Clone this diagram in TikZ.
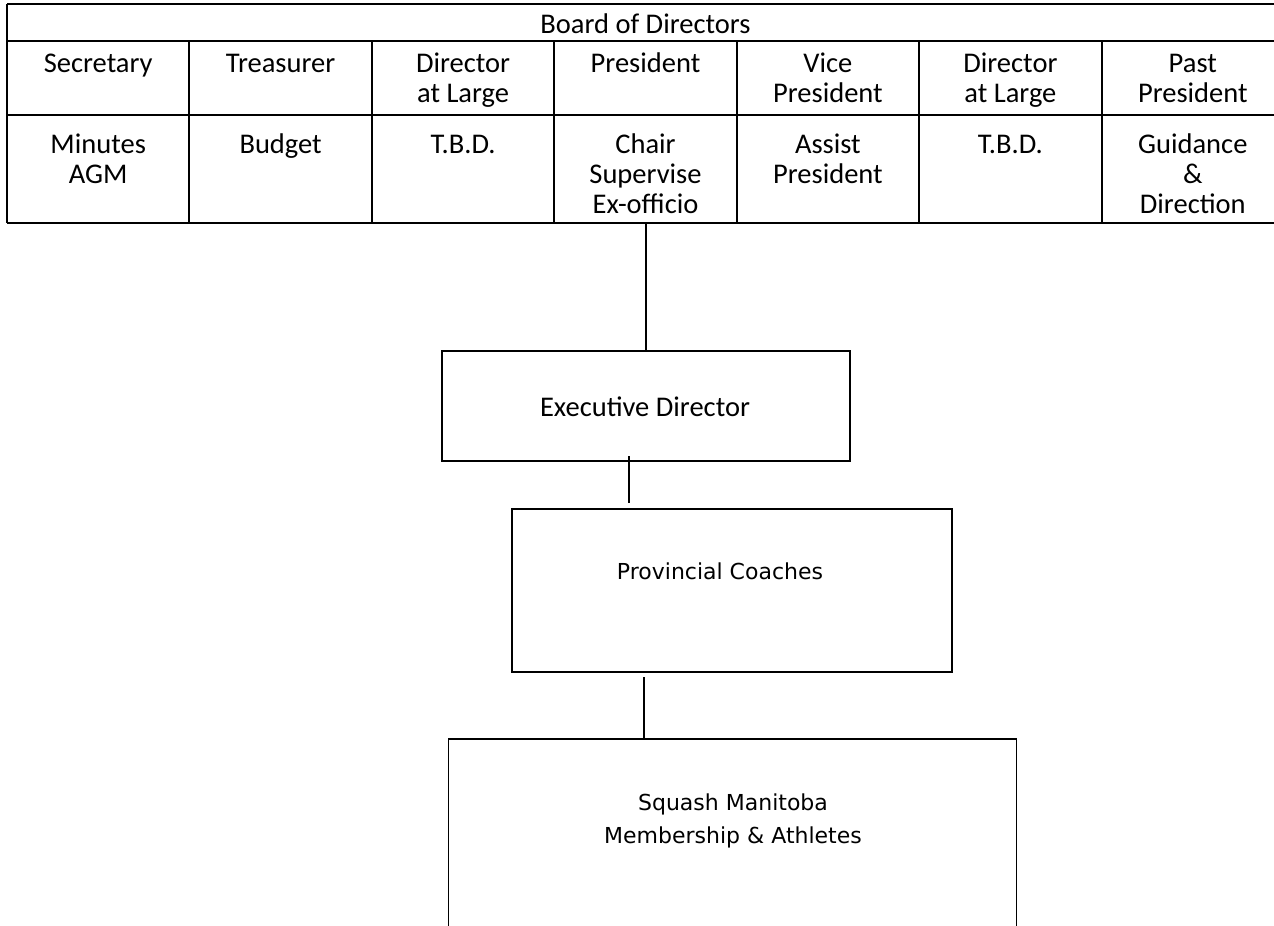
\documentclass[tikz,border=0pt]{standalone}
\usepackage{fontspec}
\setmainfont{Carlito}
\newfontfamily\comicfont{DejaVu Sans}
\begin{document}
\begin{tikzpicture}[x=1pt,y=-1pt,
  grid/.style={line width=2pt},
  cell/.style={anchor=north,inner sep=0pt,align=center,font=\fontsize{28.5}{30}\selectfont},
  edbox/.style={draw,line width=2pt,inner sep=0pt},
  thinbox/.style={draw,line width=1.5pt,inner sep=0pt},
  comic/.style={inner sep=0pt,align=center,font=\comicfont\fontsize{22}{33}\selectfont},
  link/.style={line width=1.5pt}]
\clip (0,0) rectangle (1274,926);
\fill[white] (0,0) rectangle (1274,926);
% table lines
\draw[grid] (7,4) -- (1290,4);
\draw[grid] (7,41) -- (1290,41);
\draw[grid] (7,115) -- (1290,115);
\draw[grid] (7,223) -- (1290,223);
\draw[grid] (7,4) -- (7,223);
\foreach \i in {1,...,7}{
  \draw[grid] ({7+182.43*\i},41) -- ({7+182.43*\i},223);
}
% header
\node[cell] (board) at (645.5,12) {\strut Board of Directors};
% row 2
\node[cell] (r1) at (98.2,51) {\strut Secretary};
\node[cell] (r2) at (280.6,51) {\strut Treasurer};
\node[cell] (r3) at (463.1,51) {\strut Director\\at Large};
\node[cell] (r4) at (645.5,51) {\strut President};
\node[cell] (r5) at (827.9,51) {\strut Vice\\President};
\node[cell] (r6) at (1010.4,51) {\strut Director\\at Large};
\node[cell] (r7) at (1192.8,51) {\strut Past\\President};
% row 3
\node[cell] (d1) at (98.2,132) {\strut Minutes\\AGM};
\node[cell] (d2) at (280.6,132) {\strut Budget};
\node[cell] (d3) at (463.1,132) {\strut T.B.D.};
\node[cell] (d4) at (645.5,132) {\strut Chair\\Supervise\\Ex-officio};
\node[cell] (d5) at (827.9,132) {\strut Assist\\President};
\node[cell] (d6) at (1010.4,132) {\strut T.B.D.};
\node[cell] (d7) at (1192.8,132) {\strut Guidance\\\&\\Direction};
\coordinate (tbot) at (646,223);
% boxes
\node[edbox,minimum width=408pt,minimum height=110pt] (ed) at (646,406) {};
\node[cell,anchor=base] (edt) at (645,416) {Executive Director};
\node[thinbox,minimum width=440pt,minimum height=163pt] (pc) at (732,590.5) {};
\node[comic,anchor=base] (pct) at (720,579) {Provincial Coaches};
\node[thinbox,minimum width=568pt,minimum height=260pt,anchor=north] (sm) at (732.5,738) {};
\node[comic,anchor=north] (smt) at (733,786.9) {\strut Squash Manitoba\\Membership \& Athletes};
% connectors
\draw[link] (tbot) -- (ed.north);
\coordinate (e1) at (629,456);
\coordinate (e2) at (629,503);
\draw[link] (e1) -- (e2);
\coordinate (p1) at (644,677);
\draw[link] (p1) -- (p1 |- sm.north);
\end{tikzpicture}
\end{document}
